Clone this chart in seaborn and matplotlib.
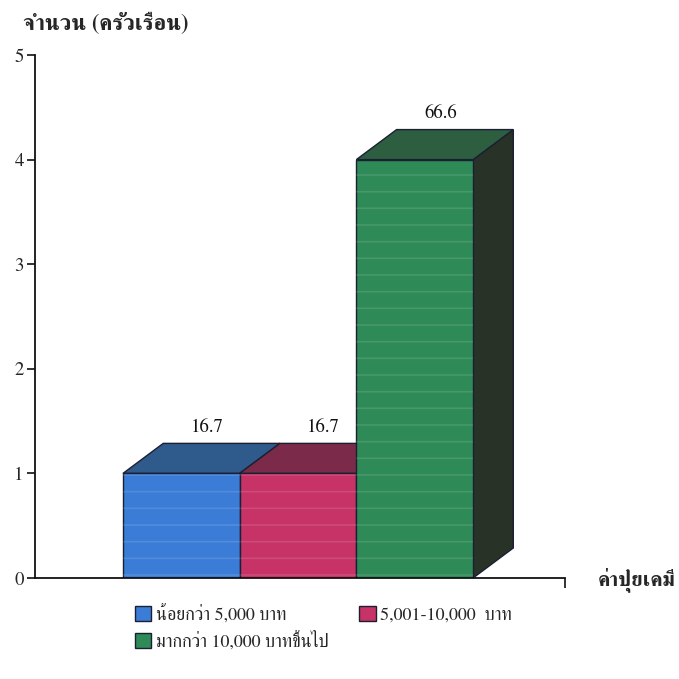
import matplotlib
matplotlib.use("Agg")
import matplotlib.pyplot as plt
import pandas as pd
import seaborn as sns
from matplotlib.patches import Polygon, Rectangle

# data
categories = ["น้อยกว่า 5,000 บาท", "5,001-10,000  บาท", "มากกว่า 10,000 บาทขึ้นไป"]
households = [1, 1, 4]
percent_labels = ["16.7", "16.7", "66.6"]

front_colors = ["#3A7CD6", "#C73366", "#2E8A56"]
top_colors = ["#2E5A8C", "#7B2A4A", "#2D5E40"]
side_color = "#283227"
edge_color = "#1B1F33"

df = pd.DataFrame({"category": categories, "households": households})

sns.set_style("white")
plt.rcParams["font.family"] = ["FreeSerif", "DejaVu Serif"]
plt.rcParams["hatch.linewidth"] = 1.2

fig = plt.figure(figsize=(6.79, 6.79), dpi=100)
ax = fig.add_axes([35 / 679, 1 - 578 / 679, 530 / 679, 523 / 679])

sns.barplot(
    data=df, x="category", y="households", hue="category",
    order=categories, hue_order=categories,
    palette=dict(zip(categories, front_colors)), saturation=1,
    width=1.0, edgecolor=edge_color, linewidth=1.0,
    errorbar=None, legend=True, ax=ax, zorder=2,
)

ax.set_xlim(-1.254, 3.288)
ax.set_ylim(0, 5)

# fake 3d depth (in data units)
dx, dy = 0.345, 0.287
for i, p in enumerate(ax.patches[:len(categories)]):
    x0 = p.get_x()
    x1 = x0 + p.get_width()
    h = p.get_height()
    top = Polygon([(x0, h), (x1, h), (x1 + dx, h + dy), (x0 + dx, h + dy)],
                  closed=True, facecolor=top_colors[i], edgecolor=edge_color,
                  linewidth=1.0, zorder=1, clip_on=False)
    side = Polygon([(x1, 0), (x1 + dx, dy), (x1 + dx, h + dy), (x1, h)],
                   closed=True, facecolor=side_color, edgecolor=edge_color,
                   linewidth=1.0, zorder=1, clip_on=False)
    ax.add_patch(side)
    ax.add_patch(top)
    # light horizontal stripes on the front face
    ax.add_patch(Rectangle((x0, 0), x1 - x0, h, fill=False, hatch="-",
                           edgecolor=(1, 1, 1, 0.12), linewidth=0, zorder=2.5))
    ax.text(x0 + 0.5 + 0.22, h + dy + 0.15, percent_labels[i],
            ha="center", va="center", fontsize=13.5, color="#111111")

sns.despine(ax=ax)
for s in ["left", "bottom"]:
    ax.spines[s].set_color("#111111")
    ax.spines[s].set_linewidth(1.3)

ax.set_yticks(range(0, 6))
ax.tick_params(axis="y", direction="out", length=6, width=1.2, color="#111111",
               labelsize=13.5, left=True, pad=2)
ax.set_xticks([3.288])
ax.set_xticklabels([""])
ax.tick_params(axis="x", direction="out", length=7, width=1.2, color="#111111",
               bottom=True)
ax.set_xlabel("")
ax.set_ylabel("")

fig.text(23 / 679, 1 - 24 / 679, "จำนวน (ครัวเรือน)", ha="left", va="center",
         fontsize=16, fontweight="bold")
fig.text(598 / 679, 1 - 580 / 679, "ค่าปุ๋ยเคมี", ha="left", va="center",
         fontsize=15, fontweight="bold")

handles, labels = ax.get_legend_handles_labels()
ax.get_legend().remove()
# legend fills column-wise: reorder so rows read blue, pink / green
order = [0, 2, 1]
fig.legend([handles[k] for k in order], [labels[k] for k in order],
           ncol=2, frameon=False,
           loc="upper left", bbox_to_anchor=(128 / 679, 1 - 597 / 679),
           fontsize=13, handlelength=0.9, handleheight=0.9,
           handletextpad=0.25, columnspacing=1.7, labelspacing=0.45,
           borderaxespad=0)

fig.savefig("out.png", dpi=100)
